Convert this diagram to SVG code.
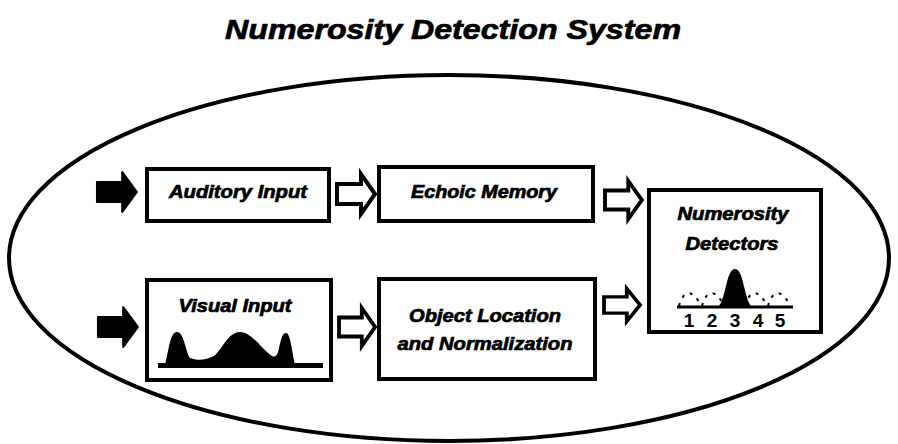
<svg xmlns="http://www.w3.org/2000/svg" width="898" height="444" viewBox="0 0 898 444">
  <style>
    .lbl { font-family: "Liberation Sans", Arial, sans-serif; font-weight: bold; font-style: italic; fill: #000; stroke: #000; stroke-width: 0.7; text-anchor: middle; }
    .box { fill: #fff; stroke: #000; stroke-width: 4; }
    .solid { fill: #000; stroke: #000; stroke-width: 2; stroke-linejoin: round; }
    .hollow { fill: #fff; stroke: #000; stroke-width: 4; stroke-linejoin: miter; }
    .digit { font-family: "Liberation Sans", Arial, sans-serif; font-weight: bold; font-size: 19px; fill: #000; text-anchor: middle; }
    .dash { fill: none; stroke: #000; stroke-width: 2; stroke-dasharray: 3 6; }
  </style>
  <defs>
    <!-- block arrow, pointing right, origin at tail centre -->
    <path id="arrow" d="M0,-10 H24 V-20 L38,0 L24,20 V10 H0 Z"/>
  </defs>

  <rect width="898" height="444" fill="#fff"/>

  <!-- title -->
  <text class="lbl" x="453" y="39" font-size="28" textLength="456" lengthAdjust="spacingAndGlyphs">Numerosity Detection System</text>

  <!-- system boundary -->
  <ellipse cx="449" cy="258" rx="440" ry="183" fill="none" stroke="#000" stroke-width="4"/>

  <g id="connectors">
    <use href="#arrow" class="solid" transform="translate(97,192) scale(1.05,1)"/>
    <use href="#arrow" class="hollow" transform="translate(337,194)"/>
    <use href="#arrow" class="hollow" transform="translate(605,200) scale(0.97,0.95)"/>
    <use href="#arrow" class="solid" transform="translate(98,327) scale(1.05,1)"/>
    <use href="#arrow" class="hollow" transform="translate(339,327) scale(0.95,0.95)"/>
    <use href="#arrow" class="hollow" transform="translate(604,305) scale(0.95,0.82)"/>
  </g>

  <g id="auditory-input">
    <rect class="box" x="147" y="169" width="182" height="52"/>
    <text class="lbl" x="238" y="198" font-size="18" textLength="138" lengthAdjust="spacingAndGlyphs">Auditory Input</text>
  </g>

  <g id="echoic-memory">
    <rect class="box" x="379" y="167" width="214" height="54"/>
    <text class="lbl" x="484" y="198" font-size="18" textLength="146" lengthAdjust="spacingAndGlyphs">Echoic Memory</text>
  </g>

  <g id="visual-input">
    <rect class="box" x="147" y="280" width="184" height="100"/>
    <text class="lbl" x="235" y="312" font-size="18" textLength="113" lengthAdjust="spacingAndGlyphs">Visual Input</text>
    <!-- intensity profile of the visual scene -->
    <path fill="#000" d="M158,363 H323 V368 H158 Z"/>
    <path fill="#000" d="M165,365 C169,350 170,332 177,332 C184,332 185,350 190,358 C198,361 206,360 214,356 C222,350 228,332 240,332 C252,332 262,350 272,356 C276,358 278,354 279,348 C281,340 282,333 286,333 C290,333 291,345 295,365 Z"/>
  </g>

  <g id="object-location">
    <rect class="box" x="379" y="279" width="216" height="100"/>
    <text class="lbl" x="485" y="322" font-size="18" textLength="152" lengthAdjust="spacingAndGlyphs">Object Location</text>
    <text class="lbl" x="485" y="350" font-size="18" textLength="175" lengthAdjust="spacingAndGlyphs">and Normalization</text>
  </g>

  <g id="numerosity-detectors">
    <rect class="box" x="649" y="190" width="172" height="142"/>
    <text class="lbl" x="733" y="220" font-size="18" textLength="111" lengthAdjust="spacingAndGlyphs">Numerosity</text>
    <text class="lbl" x="732" y="250" font-size="18" textLength="93" lengthAdjust="spacingAndGlyphs">Detectors</text>
    <!-- tuning curves: weak responses of neighbouring detectors -->
    <path class="dash" d="M679,306 C683,290 693,288 701,306"/>
    <path class="dash" d="M702,306 C706,290 716,288 724,306"/>
    <path class="dash" d="M745,306 C749,290 759,288 767,306"/>
    <path class="dash" d="M768,306 C772,290 782,288 790,306"/>
    <!-- strong response of detector 3 -->
    <path fill="#000" d="M718,307 C726,300 726,269 735,269 C744,269 744,300 752,307 Z"/>
    <line x1="677" y1="307" x2="793" y2="307" stroke="#000" stroke-width="3"/>
    <text class="digit" x="689" y="327">1</text>
    <text class="digit" x="712" y="327">2</text>
    <text class="digit" x="735" y="327">3</text>
    <text class="digit" x="758" y="327">4</text>
    <text class="digit" x="780" y="327">5</text>
  </g>
</svg>
